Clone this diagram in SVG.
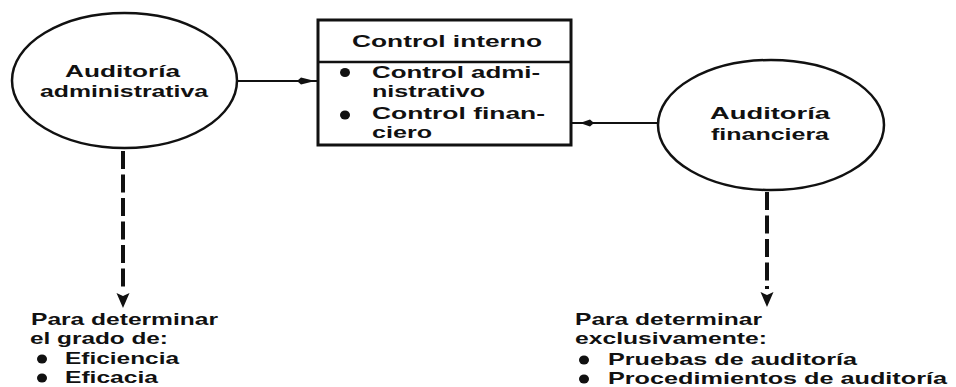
<svg xmlns="http://www.w3.org/2000/svg" width="956" height="387" viewBox="0 0 956 387">
  <style>
    .t { font-family: "Liberation Sans", Arial, sans-serif; font-weight: bold; font-size: 17px; fill: #111; }
    .shape { fill: #fff; stroke: #111; stroke-width: 2.5; }
    .conn { fill: none; stroke: #111; stroke-width: 2.2; }
    .dash { fill: none; stroke: #111; stroke-width: 4; stroke-dasharray: 18 5.5; }
    .head { fill: #111; stroke: none; }
    .dot { fill: #111; }
  </style>
  <rect width="956" height="387" fill="#fff"/>

  <g id="connectors">
    <line class="conn" x1="237" y1="81" x2="317" y2="81"/>
    <path class="head" d="M315,81 L301,77.5 L297,81 L301,84.5 Z"/>
    <line class="conn" x1="657" y1="123" x2="572" y2="123"/>
    <path class="head" d="M580,123 L590,119.5 L594,123 L590,126.5 Z"/>
    <line class="dash" x1="123" y1="151" x2="123" y2="290"/>
    <path class="head" d="M123,308 L116.5,293 L123,296 L129.5,293 Z"/>
    <line class="dash" x1="767" y1="192" x2="767" y2="289"/>
    <path class="head" d="M767,307 L760.5,292 L767,295 L773.5,292 Z"/>
  </g>

  <g id="auditoria-administrativa">
    <ellipse class="shape" cx="124.5" cy="80.5" rx="112.5" ry="67.5"/>
    <text class="t" x="65" y="77" textLength="115" lengthAdjust="spacingAndGlyphs">Auditoría</text>
    <text class="t" x="40" y="97" textLength="168" lengthAdjust="spacingAndGlyphs">administrativa</text>
  </g>

  <g id="control-interno">
    <rect x="318" y="20" width="253" height="125" fill="#fff" stroke="#111" stroke-width="3"/>
    <line x1="318" y1="62" x2="571" y2="62" stroke="#111" stroke-width="2.5"/>
    <text class="t" x="352" y="47" textLength="190" lengthAdjust="spacingAndGlyphs">Control interno</text>
    <ellipse class="dot" cx="345" cy="72.5" rx="5" ry="4.5"/>
    <text class="t" x="372" y="78" textLength="168" lengthAdjust="spacingAndGlyphs">Control admi-</text>
    <text class="t" x="372" y="97" textLength="113" lengthAdjust="spacingAndGlyphs">nistrativo</text>
    <ellipse class="dot" cx="345" cy="115" rx="5" ry="4.5"/>
    <text class="t" x="372" y="119" textLength="173" lengthAdjust="spacingAndGlyphs">Control finan-</text>
    <text class="t" x="372" y="138" textLength="60" lengthAdjust="spacingAndGlyphs">ciero</text>
  </g>

  <g id="auditoria-financiera">
    <ellipse class="shape" cx="771" cy="125" rx="113" ry="65"/>
    <text class="t" x="710" y="119" textLength="120" lengthAdjust="spacingAndGlyphs">Auditoría</text>
    <text class="t" x="711" y="140" textLength="118" lengthAdjust="spacingAndGlyphs">financiera</text>
  </g>

  <g id="nota-administrativa">
    <text class="t" x="31" y="325" textLength="187" lengthAdjust="spacingAndGlyphs">Para determinar</text>
    <text class="t" x="30" y="344" textLength="138" lengthAdjust="spacingAndGlyphs">el grado de:</text>
    <ellipse class="dot" cx="42" cy="359" rx="5" ry="4.5"/>
    <text class="t" x="65" y="364" textLength="114" lengthAdjust="spacingAndGlyphs">Eficiencia</text>
    <ellipse class="dot" cx="42" cy="378" rx="5" ry="4.5"/>
    <text class="t" x="65" y="383" textLength="93" lengthAdjust="spacingAndGlyphs">Eficacia</text>
  </g>

  <g id="nota-financiera">
    <text class="t" x="575" y="325" textLength="187" lengthAdjust="spacingAndGlyphs">Para determinar</text>
    <text class="t" x="575" y="344" textLength="192" lengthAdjust="spacingAndGlyphs">exclusivamente:</text>
    <ellipse class="dot" cx="584" cy="360" rx="5" ry="4.5"/>
    <text class="t" x="608" y="365" textLength="249" lengthAdjust="spacingAndGlyphs">Pruebas de auditoría</text>
    <ellipse class="dot" cx="584" cy="379" rx="5" ry="4.5"/>
    <text class="t" x="608" y="384" textLength="339" lengthAdjust="spacingAndGlyphs">Procedimientos de auditoría</text>
  </g>
</svg>
